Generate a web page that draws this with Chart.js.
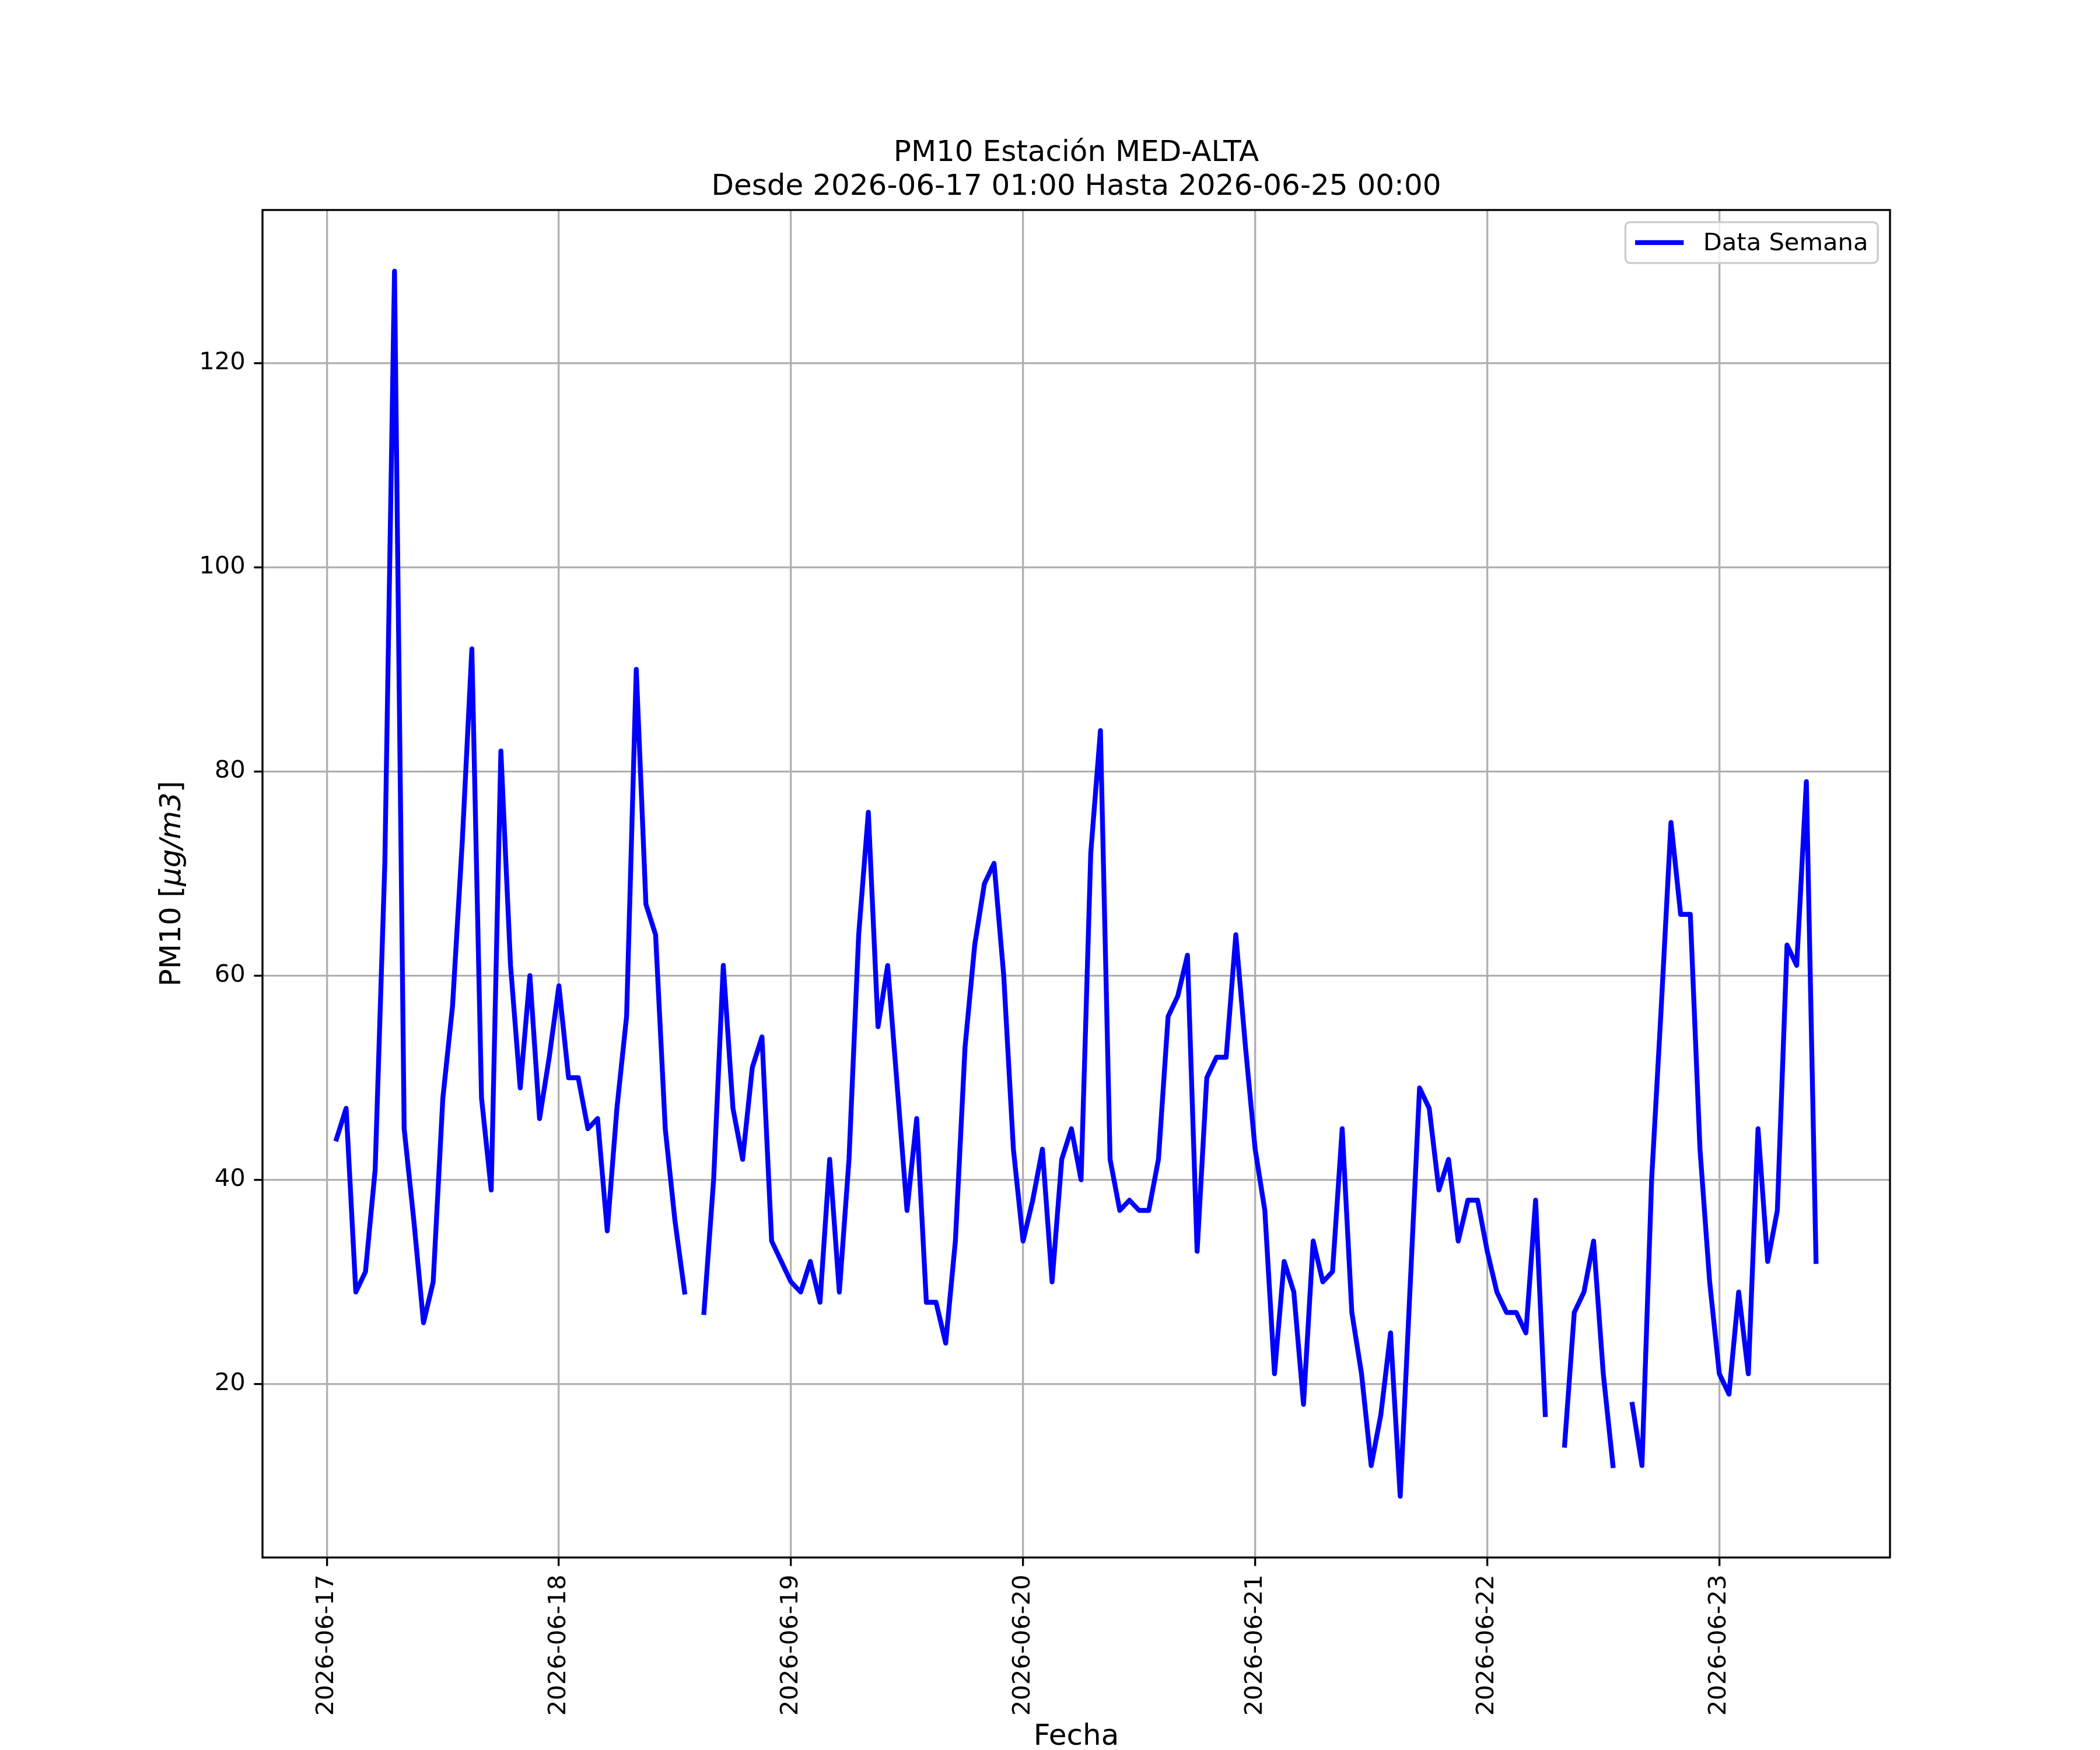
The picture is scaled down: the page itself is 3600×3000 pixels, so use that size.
<!DOCTYPE html>
<html>
<head>
<meta charset="utf-8">
<title>PM10 Estación MED-ALTA</title>
<script src="https://cdn.jsdelivr.net/npm/chart.js@4.4.1/dist/chart.umd.min.js"></script>
<style>
  html, body { margin: 0; padding: 0; background: #fff; }
  canvas { display: block; }
</style>
</head>
<body>
<canvas id="pm10Chart" width="3600" height="3000" style="width:3600px;height:3000px"></canvas>
<script>
// Hourly PM10 readings, first one at 2026-06-17 01:00 (null = no reading)
const firstHour = 1; // hours after 2026-06-17 00:00
const pm10Values = [
  44, 47, 29, 31, 41, 71, 129, 45, 36, 26, 30, 48, 57, 73, 92, 48, 39, 82, 61, 49, 60, 46, 52, 59,
  50, 50, 45, 46, 35, 47, 56, 90, 67, 64, 45, 36, 29, null, 27, 40, 61, 47, 42, 51, 54, 34, 32, 30,
  29, 32, 28, 42, 29, 42, 64, 76, 55, 61, 49, 37, 46, 28, 28, 24, 34, 53, 63, 69, 71, 60, 43, 34,
  38, 43, 30, 42, 45, 40, 72, 84, 42, 37, 38, 37, 37, 42, 56, 58, 62, 33, 50, 52, 52, 64, 53, 43,
  37, 21, 32, 29, 18, 34, 30, 31, 45, 27, 21, 12, 17, 25, 9, 29, 49, 47, 39, 42, 34, 38, 38, 33,
  29, 27, 27, 25, 38, 17, null, 14, 27, 29, 34, 21, 12, null, 18, 12, 40, 57, 75, 66, 66, 43, 30, 21,
  19, 29, 21, 45, 32, 37, 63, 61, 79, 32
];
const dayTickHours = [0, 24, 48, 72, 96, 120, 144];
const dayTickLabels = ["2026-06-17", "2026-06-18", "2026-06-19", "2026-06-20", "2026-06-21", "2026-06-22", "2026-06-23"];
const yTickValues = [20, 40, 60, 80, 100, 120];
const titleLines = ["PM10 Estación MED-ALTA", "Desde 2026-06-17 01:00 Hasta 2026-06-25 00:00"];
const seriesLabel = "Data Semana";
const xLabel = "Fecha";
const yLabelParts = [["PM10 [", "normal"], ["μg/m3", "italic"], ["]", "normal"]];

// matplotlib-like sizes at 300 dpi
const FONT = "'DejaVu Sans', sans-serif";
const PT = 300 / 72;
const tickFont = 10 * PT;
const labelFont = 12 * PT;

const points = pm10Values.map((v, i) => ({ x: firstHour + i, y: v }));

// autoscale with 5% margins like matplotlib
const valid = pm10Values.filter(v => v !== null);
const yLo = Math.min(...valid), yHi = Math.max(...valid);
const xLo = firstHour, xHi = firstHour + pm10Values.length - 1;
const xPad = (xHi - xLo) * 0.05, yPad = (yHi - yLo) * 0.05;

// frame, y label and legend box
const decorations = {
  id: "decorations",
  afterDatasetsDraw(chart) {
    const { ctx, chartArea: a } = chart;
    ctx.save();
    ctx.strokeStyle = "#000";
    ctx.lineWidth = 0.8 * PT;
    ctx.strokeRect(a.left, a.top, a.right - a.left, a.bottom - a.top);

    // y axis label with italic units
    ctx.translate(296, (a.top + a.bottom) / 2);
    ctx.rotate(-Math.PI / 2);
    ctx.textBaseline = "middle";
    ctx.fillStyle = "#000";
    let total = 0;
    yLabelParts.forEach(([t, s]) => {
      ctx.font = s + " " + labelFont + "px " + FONT;
      total += ctx.measureText(t).width;
    });
    let x = -total / 2;
    yLabelParts.forEach(([t, s]) => {
      ctx.font = s + " " + labelFont + "px " + FONT;
      ctx.textAlign = "left";
      ctx.fillText(t, x, 0);
      x += ctx.measureText(t).width;
    });
    ctx.restore();

    // legend, upper right
    const ds = chart.data.datasets[0];
    ctx.save();
    ctx.font = tickFont + "px " + FONT;
    const textW = ctx.measureText(ds.label).width;
    const pad = 0.4 * tickFont, handle = 2 * tickFont, gap = 0.8 * tickFont;
    const w = pad * 2 + handle + gap + textW;
    const h = 70;
    const right = a.right - 0.5 * tickFont, top = a.top + 0.5 * tickFont;
    const left = right - w;
    ctx.beginPath();
    ctx.roundRect(left, top, w, h, 8);
    ctx.fillStyle = "rgba(255,255,255,0.8)";
    ctx.fill();
    ctx.strokeStyle = "#cccccc";
    ctx.lineWidth = 0.8 * PT;
    ctx.stroke();
    const cy = top + h / 2;
    ctx.beginPath();
    ctx.moveTo(left + pad, cy);
    ctx.lineTo(left + pad + handle, cy);
    ctx.strokeStyle = ds.borderColor;
    ctx.lineWidth = ds.borderWidth;
    ctx.stroke();
    ctx.fillStyle = "#000";
    ctx.textBaseline = "middle";
    ctx.textAlign = "left";
    ctx.fillText(ds.label, left + pad + handle + gap, cy + 2);
    ctx.restore();
  }
};

new Chart(document.getElementById("pm10Chart").getContext("2d"), {
  type: "line",
  data: {
    datasets: [
      {
        label: seriesLabel,
        data: points,
        borderColor: "#0000ff",
        borderWidth: 2 * PT,
        borderJoinStyle: "round",
        borderCapStyle: "square",
        pointRadius: 0,
        tension: 0,
        spanGaps: false,
        fill: false,
      },
    ],
  },
  options: {
    responsive: false,
    devicePixelRatio: 1,
    animation: false,
    layout: { padding: { left: 0, right: 360, top: 0, bottom: 0 } },
    plugins: {
      legend: { display: false },
      tooltip: { enabled: false },
      title: {
        display: true,
        text: titleLines,
        fullSize: false,
        color: "#000",
        font: { family: FONT, size: labelFont, weight: "normal", lineHeight: 1.16 },
        padding: { top: 234, bottom: 10 },
      },
    },
    scales: {
      x: {
        type: "linear",
        min: xLo - xPad,
        max: xHi + xPad,
        afterFit(scale) { scale.height = 330; },
        afterBuildTicks(scale) { scale.ticks = dayTickHours.map(v => ({ value: v })); },
        ticks: {
          autoSkip: false,
          minRotation: 90,
          maxRotation: 90,
          padding: 3.5 * PT,
          color: "#000",
          font: { family: FONT, size: tickFont },
          callback: (value) => dayTickLabels[dayTickHours.indexOf(value)],
        },
        grid: {
          color: "#b0b0b0",
          lineWidth: 0.8 * PT,
          tickColor: "#000",
          tickLength: 3.5 * PT,
          tickWidth: 0.8 * PT,
        },
        border: { display: false },
        title: {
          display: true,
          text: xLabel,
          color: "#000",
          font: { family: FONT, size: labelFont, lineHeight: 0.88 },
          padding: { top: 0, bottom: 0 },
        },
      },
      y: {
        min: yLo - yPad,
        max: yHi + yPad,
        afterFit(scale) { scale.width = 450; },
        afterBuildTicks(scale) { scale.ticks = yTickValues.map(v => ({ value: v })); },
        ticks: {
          padding: 3.5 * PT,
          color: "#000",
          font: { family: FONT, size: tickFont },
        },
        grid: {
          color: "#b0b0b0",
          lineWidth: 0.8 * PT,
          tickColor: "#000",
          tickLength: 3.5 * PT,
          tickWidth: 0.8 * PT,
        },
        border: { display: false },
      },
    },
  },
  plugins: [decorations],
});
</script>
</body>
</html>
